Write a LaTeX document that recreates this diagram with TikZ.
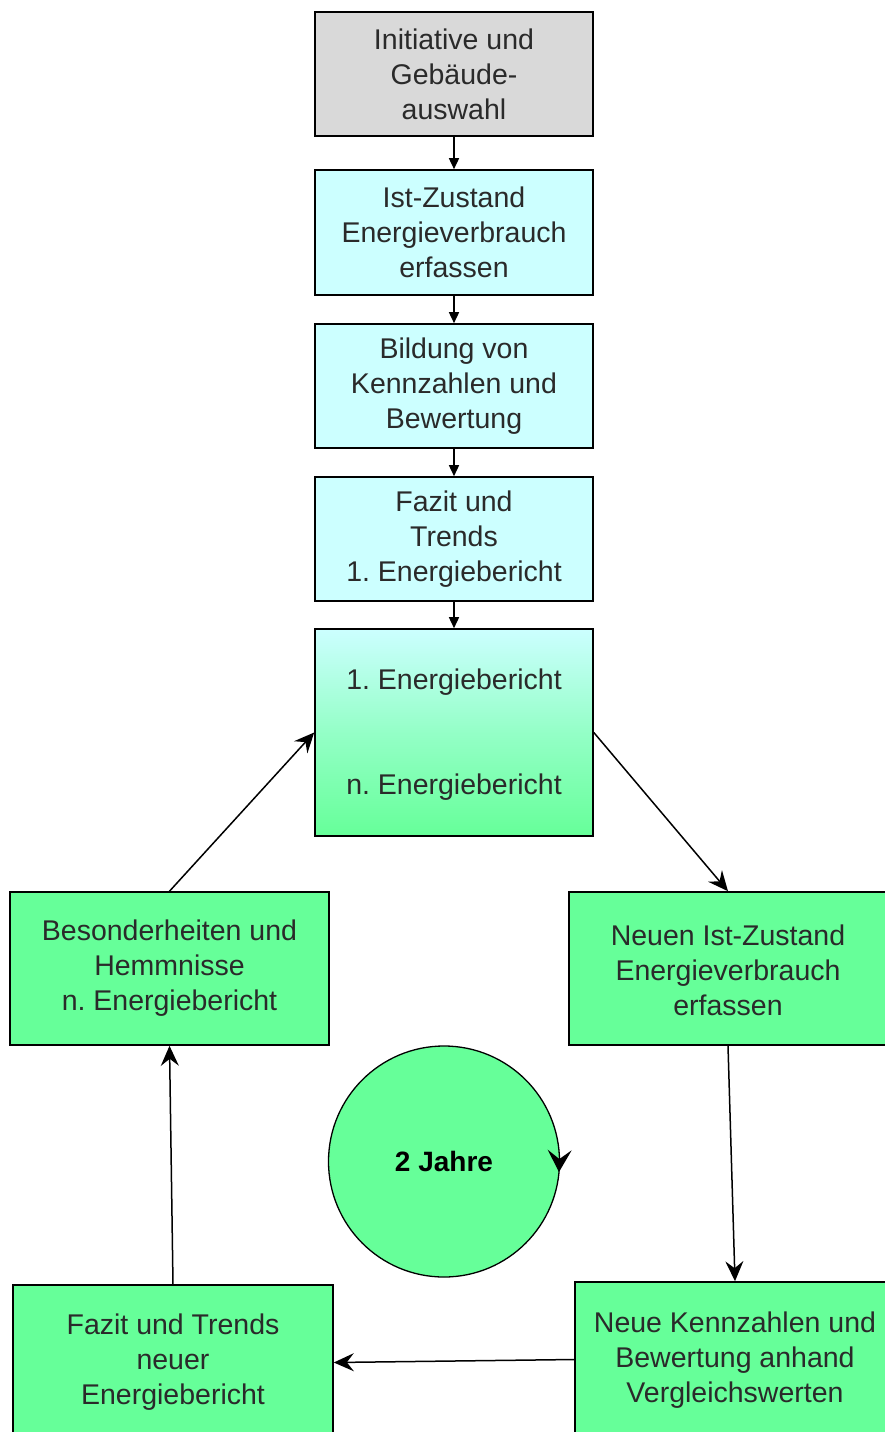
\documentclass[tikz,border=0pt]{standalone}
\usepackage{fontspec}
\setmainfont{Liberation Sans}
\usetikzlibrary{arrows.meta}
\frenchspacing
\definecolor{boxgray}{HTML}{D9D9D9}
\definecolor{boxcyan}{HTML}{CCFFFF}
\definecolor{boxgreen}{HTML}{66FF99}
\definecolor{txt}{HTML}{2A2A2A}
\newcommand{\boxfont}{\fontsize{28.5}{35}\selectfont}
\tikzset{
  stepbox/.style={draw=black, line width=1.6pt, align=center, text=txt,
    font=\boxfont, inner sep=0pt},
  topbox/.style={stepbox, minimum width=278pt, minimum height=124pt},
  conn/.style={draw=black, line width=1.5pt, -{Triangle[length=11pt,width=10pt]}},
  conn2/.style={draw=black, line width=1.5pt, -{Stealth[length=20pt,width=18pt,inset=7pt]}},
}
\begin{document}
\begin{tikzpicture}[x=1pt,y=-1pt]
\useasboundingbox (0,0) rectangle (884,1432);
\fill[white] (0,0) rectangle (884,1432);
\node[topbox, fill=boxgray] (b1) at (454,74) {Initiative und\\Gebäude-\\auswahl};
\node[topbox, fill=boxcyan, minimum height=125pt] (b2) at (454,232.5) {Ist-Zustand\\Energieverbrauch\\erfassen};
\node[topbox, fill=boxcyan] (b3) at (454,386) {Bildung von\\Kennzahlen und\\Bewertung};
\node[topbox, fill=boxcyan] (b4) at (454,539) {Fazit und\\Trends\\1. Energiebericht};
\shade[top color=boxcyan, bottom color=boxcyan!45!boxgreen] (315,629) rectangle (593,732.5);
\shade[top color=boxcyan!45!boxgreen, bottom color=boxgreen] (315,732) rectangle (593,836);
\node[topbox, minimum height=207pt] (b5) at (454,732.5) {};
\node[text=txt, font=\boxfont] (t1) at (454,682) {1. Energiebericht};
\node[text=txt, font=\boxfont] (tn) at (454,787) {n. Energiebericht};
\node[stepbox, fill=boxgreen, minimum width=319pt, minimum height=153pt] (lb) at (169.5,968.5) {Besonderheiten und\\Hemmnisse\\n. Energiebericht};
\node[stepbox, fill=boxgreen, minimum width=318pt, minimum height=153pt] (rb) at (728,968.5) {};
\node[text=txt, font=\boxfont, align=center] (rbt) at (728,970) {Neuen Ist-Zustand\\Energieverbrauch\\erfassen};
\node[stepbox, fill=boxgreen, minimum width=320pt, minimum height=155pt] (bl) at (173,1362.5) {Fazit und Trends\\neuer\\Energiebericht};
\node[stepbox, fill=boxgreen, minimum width=320pt, minimum height=155pt] (br) at (735,1359.5) {};
\node[text=txt, font=\boxfont, align=center] (brt) at (735,1360) {Neue Kennzahlen und\\Bewertung anhand\\Vergleichswerten};
\node[circle, draw=black, line width=1.3pt, fill=boxgreen, minimum size=231pt, inner sep=0pt,
  font=\bfseries\fontsize{28}{32}\selectfont] (c) at (444,1161.5) {2 Jahre};
\coordinate (ca) at (559.4,1158);
\coordinate (cb) at (559,1172);
\draw[line width=1.3pt, -{Stealth[length=22pt,width=24pt,inset=9pt]}] (ca) -- (cb);
\draw[conn] (b1) -- (b2);
\draw[conn] (b2) -- (b3);
\draw[conn] (b3) -- (b4);
\draw[conn] (b4) -- (b5);
\draw[conn2] (b5.east) -- (rb.north);
\draw[conn2] (rb.south) -- (br.north);
\draw[conn2] (br.west) -- (bl.east);
\draw[conn2] (bl.north) -- (lb.south);
\draw[conn2] (lb.north) -- (b5.west);
\end{tikzpicture}
\end{document}
